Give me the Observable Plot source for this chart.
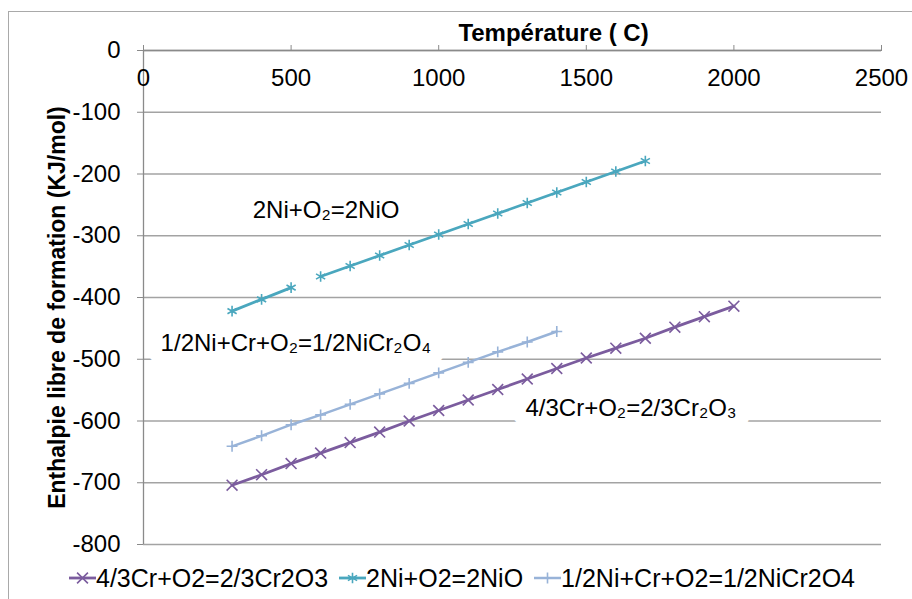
<!DOCTYPE html>
<html><head><meta charset="utf-8">
<script src="https://cdn.jsdelivr.net/npm/d3@7"></script>
<script src="https://cdn.jsdelivr.net/npm/@observablehq/plot@0.6"></script>
<style>
body{margin:0;width:912px;height:599px;overflow:hidden;background:#fff;font-family:"Liberation Sans",Arial,sans-serif;position:relative}
#frame{position:absolute;left:8px;top:11px;width:1000px;height:700px;border:1.5px solid #a9a9a9;pointer-events:none}
#legend{position:absolute;left:69px;top:560px;height:36px;display:flex;align-items:center;font-size:25px;color:#000;white-space:nowrap}
.item{display:flex;align-items:center;margin-right:11px}
.item svg{display:block}
</style></head><body>
<div id="chart"></div><div id="legend"></div><div id="frame"></div>
<script>
// ---- data ----
const xTitle = "Température ( C)";
const yTitle = "Enthalpie libre de formation (KJ/mol)";
const xTicks = [0, 500, 1000, 1500, 2000, 2500];
const yTicks = [0, -100, -200, -300, -400, -500, -600, -700, -800];

const seriesNames = ["4/3Cr+O2=2/3Cr2O3", "2Ni+O2=2NiO", "1/2Ni+Cr+O2=1/2NiCr2O4"];
const seriesColors = ["#7B5C9E", "#4AA7BE", "#98B3D8"];
const seriesSymbols = ["times", "asterisk", "plus"];

const tempCr2O3 = [300, 400, 500, 600, 700, 800, 900, 1000, 1100, 1200, 1300, 1400, 1500, 1600, 1700, 1800, 1900, 2000];
const dgCr2O3 = [-704, -687, -669, -652, -635, -618, -600, -583, -566, -549, -532, -515, -498, -482, -466, -448, -431, -414];

const tempNiO_low = [300, 400, 500];
const dgNiO_low = [-422, -403, -384];
const tempNiO_high = [600, 700, 800, 900, 1000, 1100, 1200, 1300, 1400, 1500, 1600, 1700];
const dgNiO_high = [-366, -349, -332, -315, -298, -281, -264, -247, -230, -213, -196, -179];

const tempNiCr2O4 = [300, 400, 500, 600, 700, 800, 900, 1000, 1100, 1200, 1300, 1400];
const dgNiCr2O4 = [-641, -624, -606, -590, -573, -556, -539, -522, -505, -488, -472, -455];

const annoText = ["2Ni+O₂=2NiO", "1/2Ni+Cr+O₂=1/2NiCr₂O₄", "4/3Cr+O₂=2/3Cr₂O₃"];
const annoX = [370, 58, 1294];
const annoY = [-259, -474, -580];

// ---- tables ----
function rows(name, seg, ts, gs) { return ts.map((t, i) => ({series: name, seg, t, g: gs[i]})); }
const data = [
  ...rows(seriesNames[0], "a", tempCr2O3, dgCr2O3),
  ...rows(seriesNames[1], "b1", tempNiO_low, dgNiO_low),
  ...rows(seriesNames[1], "b2", tempNiO_high, dgNiO_high),
  ...rows(seriesNames[2], "c", tempNiCr2O4, dgNiCr2O4)
];
const annos = annoText.map((text, i) => ({text, x: annoX[i], y: annoY[i]}));

const gridColor = "#a3a3a3", axisColor = "#8a8a8a";
const lineWidths = [2.8, 2.8, 2.5];
const dotR = [5, 5, 3.6];

const seriesMarks = seriesNames.flatMap((name, i) => {
  const d = data.filter(r => r.series === name);
  return [
    Plot.line(d, {x: "t", y: "g", z: "seg", stroke: seriesColors[i], strokeWidth: lineWidths[i]}),
    Plot.dot(d, {x: "t", y: "g", symbol: seriesSymbols[i], r: dotR[i], stroke: seriesColors[i], strokeWidth: 1.6})
  ];
});

const chart = Plot.plot({
  width: 912, height: 560,
  marginTop: 50, marginLeft: 143, marginRight: 31, marginBottom: 16,
  x: {domain: [0, 2500]},
  y: {domain: [-800, 0]},
  style: {fontFamily: '"Liberation Sans", Arial, sans-serif', background: "transparent", color: "#000", overflow: "visible"},
  marks: [
    Plot.ruleY(yTicks, {stroke: gridColor, strokeWidth: 1.3}),
    Plot.ruleX([0], {stroke: axisColor, strokeWidth: 1.3}),
    Plot.ruleY([0], {stroke: axisColor, strokeWidth: 1.3}),
    Plot.axisY(yTicks, {tickSize: 6, tickPadding: 17, fontSize: 24, label: null, stroke: axisColor, fill: "#000", tickFormat: d => String(d)}),
    Plot.axisX(xTicks, {anchor: "top", tickSize: 6, label: null, stroke: axisColor, tickFormat: () => ""}),
    Plot.text(xTicks, {x: d => d, frameAnchor: "top", dy: 28, lineAnchor: "middle", fontSize: 24, fill: "#000", text: d => String(d)}),
    Plot.text([xTitle], {frameAnchor: "top", dx: 41, dy: -17, lineAnchor: "middle", fontSize: 24, fontWeight: "bold", fill: "#000", text: d => d}),
    Plot.text([yTitle], {frameAnchor: "left", dx: -86, dy: 10, rotate: -90, textAnchor: "middle", lineAnchor: "middle", fontSize: 23, fontWeight: "bold", fill: "#000", text: d => d}),
    Plot.text(annos, {x: "x", y: "y", text: "text", textAnchor: "start", lineAnchor: "middle", fontSize: 24, fill: "#000", stroke: "white", strokeWidth: 28, strokeLinejoin: "round"}),
    ...seriesMarks
  ]
});
document.getElementById("chart").appendChild(chart);

// ---- legend ----
const legend = d3.select("#legend");
const symbolTypes = {times: d3.symbolTimes, asterisk: d3.symbolAsterisk, plus: d3.symbolPlus};
seriesNames.forEach((name, i) => {
  const item = legend.append("div").attr("class", "item");
  const svg = item.append("svg").attr("width", 27).attr("height", 16);
  svg.append("line").attr("x1", 0).attr("x2", 27).attr("y1", 8).attr("y2", 8)
    .attr("stroke", seriesColors[i]).attr("stroke-width", lineWidths[i]);
  svg.append("path").attr("transform", "translate(13.5,8)")
    .attr("d", d3.symbol(symbolTypes[seriesSymbols[i]], Math.PI * dotR[i] * dotR[i])())
    .attr("fill", "none").attr("stroke", seriesColors[i]).attr("stroke-width", 1.6);
  item.append("span").text(name);
});
</script></body></html>
